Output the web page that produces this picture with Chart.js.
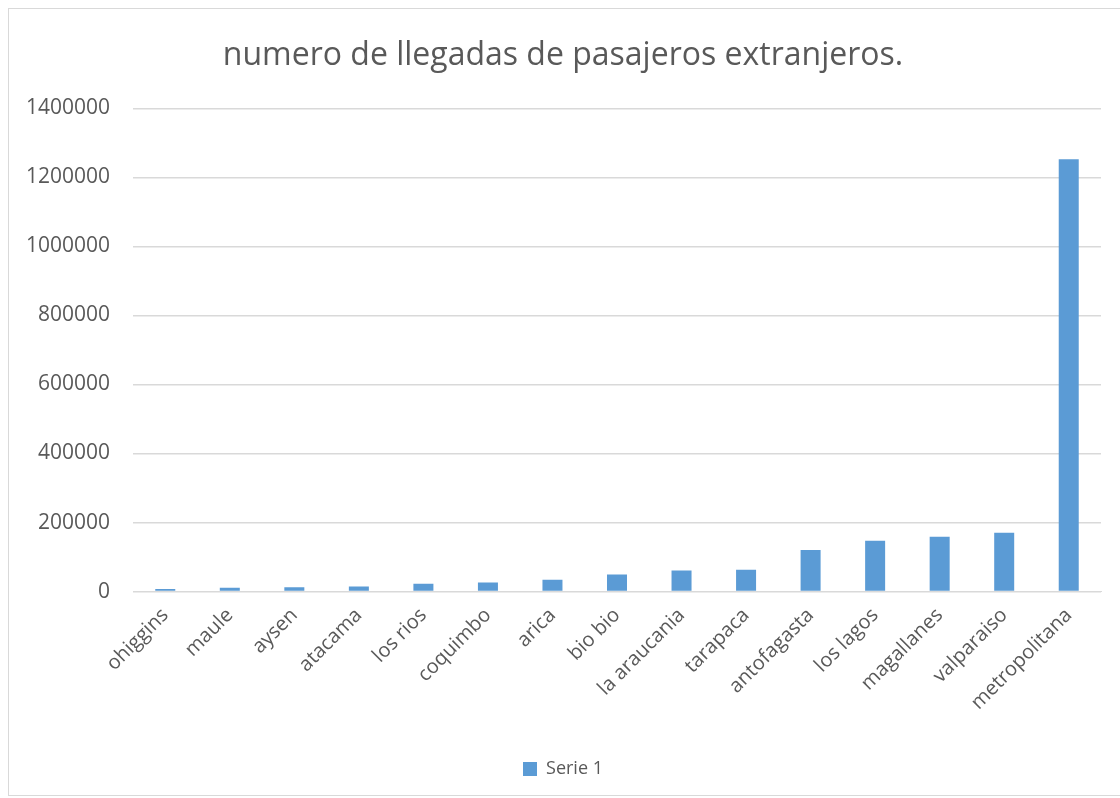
<!DOCTYPE html>
<html>
<head>
<meta charset="utf-8">
<script src="https://cdn.jsdelivr.net/npm/chart.js@4/dist/chart.umd.min.js"></script>
<style>
  html, body { margin: 0; padding: 0; background: #fff; overflow: hidden; }
  #frame { position: absolute; left: 8px; top: 8px; width: 1130px; height: 788px; border: 1px solid #d9d9d9; box-sizing: border-box; }
  #wrap { position: absolute; left: 0; top: 0; width: 1120px; height: 798px; }
</style>
</head>
<body>
<div id="frame"></div>
<div id="wrap"><canvas id="c" width="1120" height="798"></canvas></div>
<script>
// Regiones y llegadas de pasajeros extranjeros
const regiones = ["ohiggins", "maule", "aysen", "atacama", "los rios", "coquimbo", "arica", "bio bio",
  "la araucania", "tarapaca", "antofagasta", "los lagos", "magallanes", "valparaiso", "metropolitana"];
const llegadas = [7000, 10700, 12700, 14500, 22300, 26000, 33800, 49700,
  60700, 62800, 120600, 147500, 159000, 170600, 1253000];
const titulo = "numero de llegadas de pasajeros extranjeros.";
const serie = "Serie 1";
const yMax = 1400000;
const yPaso = 200000;

const gris = "#595959";
const fuente = "'Open Sans', 'Liberation Sans', sans-serif";

new Chart(document.getElementById("c"), {
  type: "bar",
  data: {
    labels: regiones,
    datasets: [{
      label: serie,
      data: llegadas,
      backgroundColor: "#5b9bd5",
      borderWidth: 0,
      categoryPercentage: 1,
      barPercentage: 0.31
    }]
  },
  options: {
    responsive: false,
    animation: false,
    layout: { padding: { left: 25, right: 19, top: 20, bottom: 10 } },
    plugins: {
      title: {
        display: true,
        text: titulo,
        color: gris,
        font: { family: fuente, size: 32, weight: "normal" },
        padding: { top: 17, bottom: 33 }
      },
      legend: {
        position: "bottom",
        labels: {
          color: gris,
          font: { family: fuente, size: 18 },
          boxWidth: 14,
          boxHeight: 14,
          padding: 10
        }
      },
      tooltip: { enabled: false }
    },
    scales: {
      x: {
        grid: { display: false },
        border: { display: true, color: "#d9d9d9" },
        title: { display: true, text: " ", font: { size: 2 }, padding: { top: 29, bottom: 0 } },
        ticks: {
          color: gris,
          font: { family: fuente, size: 20 },
          minRotation: 45,
          maxRotation: 45,
          autoSkip: false,
          padding: 4
        },
        // rotated labels may hang past the plot edge, as in the spreadsheet look
        afterFit: (s) => { s.paddingLeft = 0; }
      },
      y: {
        min: 0,
        max: yMax,
        ticks: {
          stepSize: yPaso,
          color: gris,
          font: { family: fuente, size: 21 },
          padding: 23,
          callback: (v) => String(v)
        },
        grid: { color: "#d9d9d9", lineWidth: 1.5, drawTicks: false },
        border: { display: false },
        afterFit: (s) => { s.width = 108; }
      }
    }
  }
});
</script>
</body>
</html>
